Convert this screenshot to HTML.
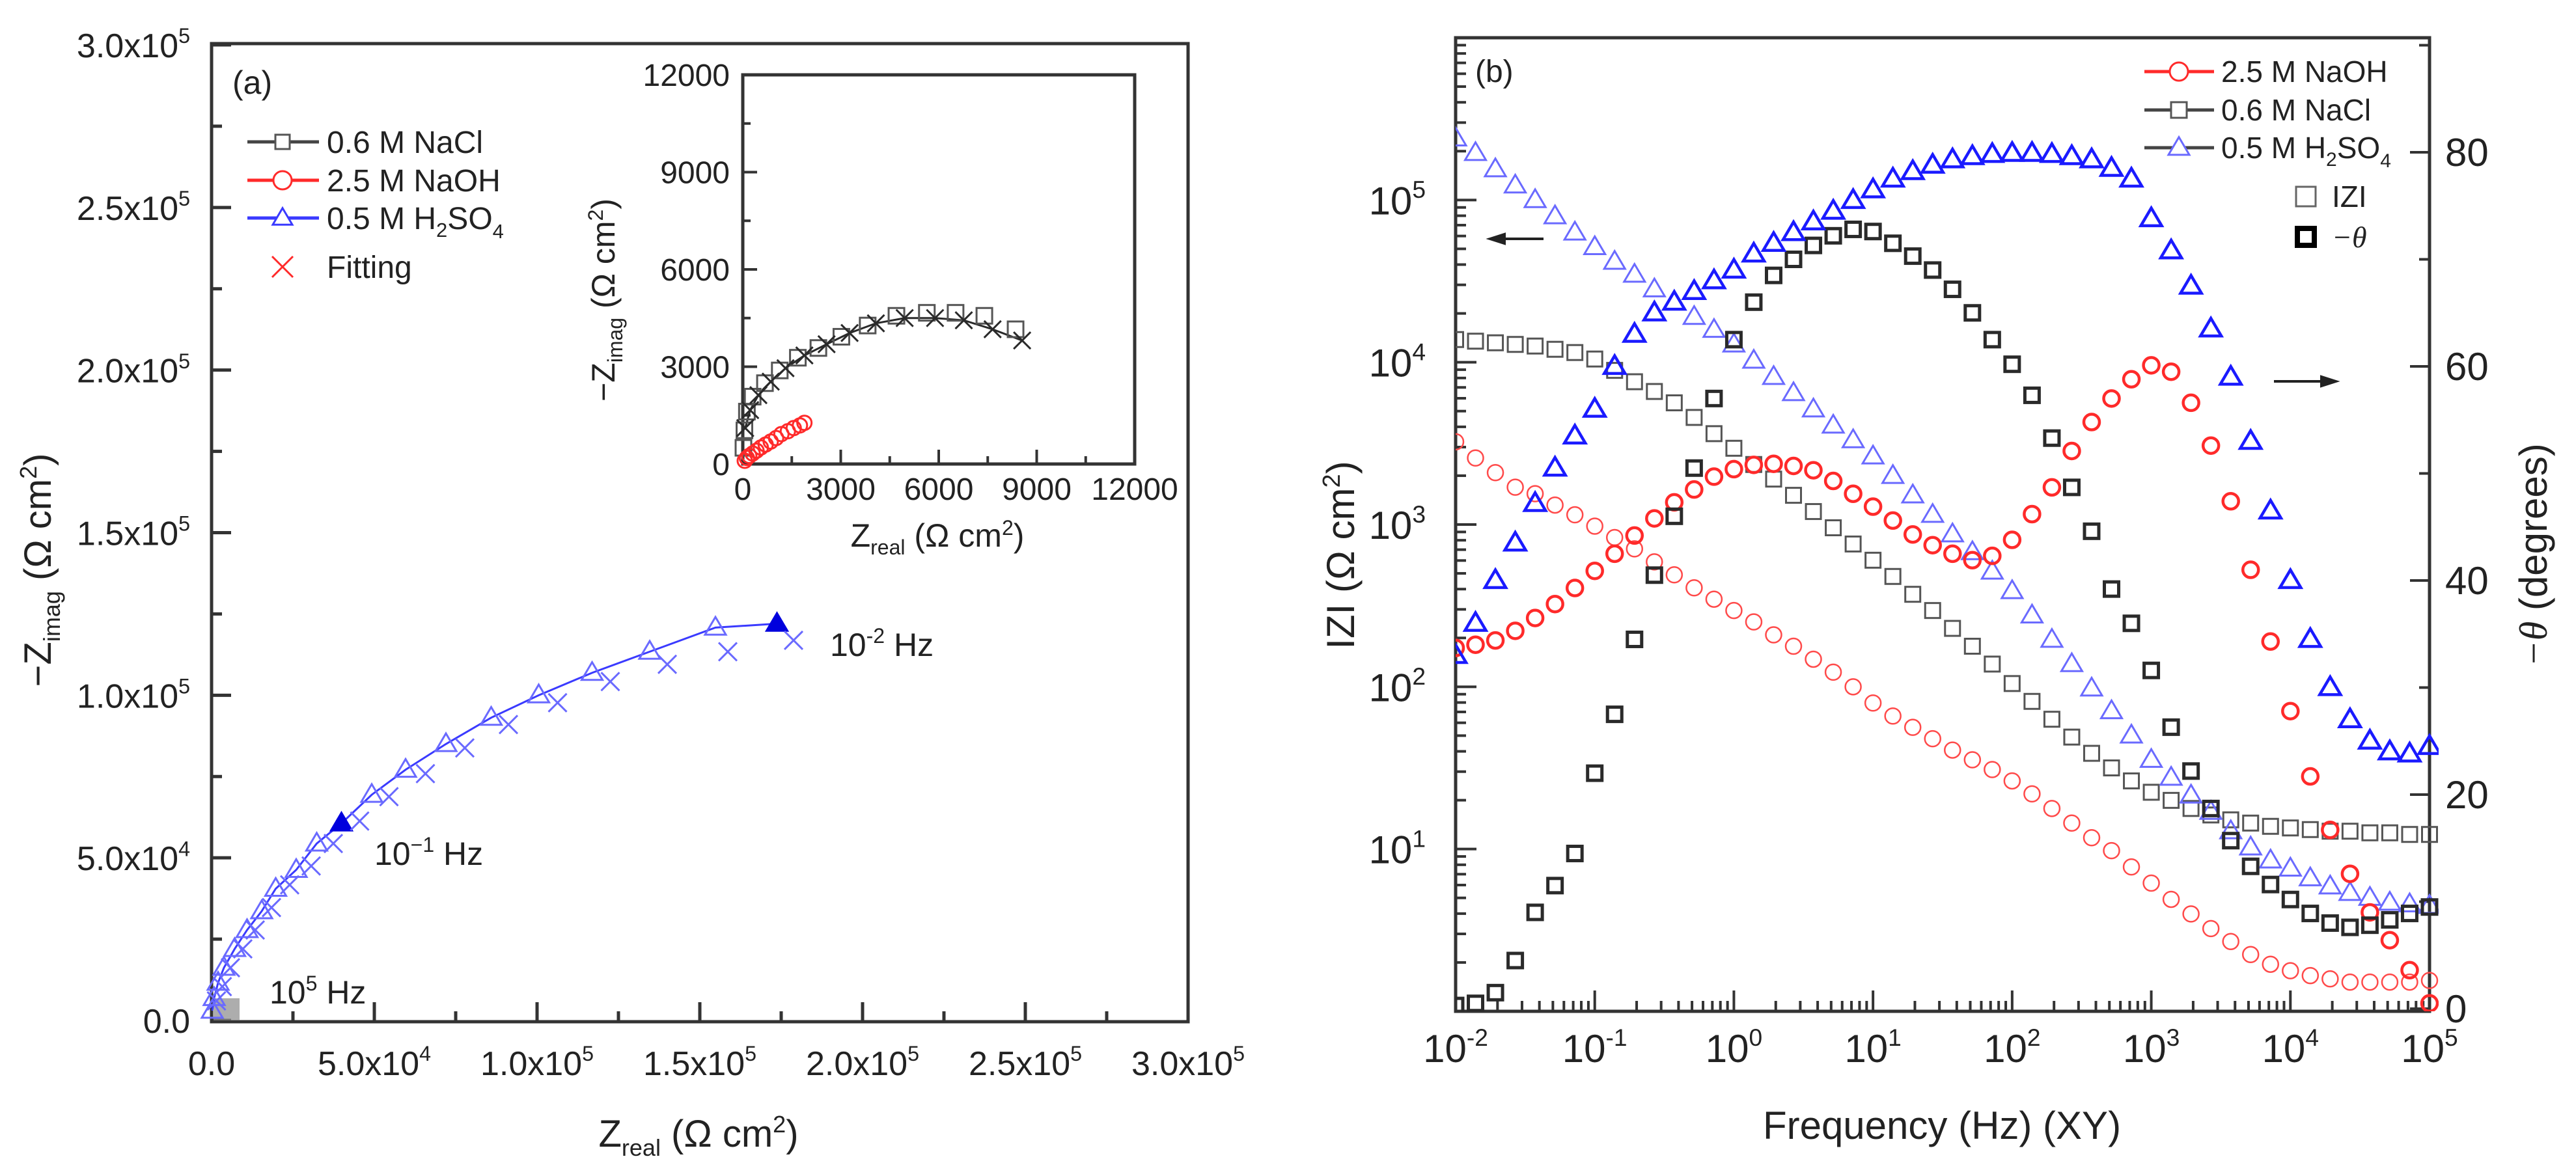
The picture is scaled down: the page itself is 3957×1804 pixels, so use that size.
<!DOCTYPE html>
<html><head><meta charset="utf-8"><style>
html,body{margin:0;padding:0;background:#fff;}
svg{display:block;font-family:"Liberation Sans",Arial,sans-serif;}
</style></head><body>
<svg id="fig" xmlns="http://www.w3.org/2000/svg" width="3957" height="1804" viewBox="0 0 3957 1804">
<rect x="0" y="0" width="3957" height="1804" fill="#fff"/>
<g id="gA"></g>
<g id="gB"></g>

<!-- Panel A static text -->
<text x="357" y="144" font-size="50" fill="#222">(a)</text>
<g font-size="48" fill="#222">
  <text x="502" y="235">0.6 M NaCl</text>
  <text x="502" y="294">2.5 M NaOH</text>
  <text x="502" y="352">0.5 M H<tspan font-size="31" dy="12">2</tspan><tspan dy="-12">SO</tspan><tspan font-size="31" dy="14">4</tspan></text>
  <text x="502" y="427">Fitting</text>
</g>
<text x="1275" y="1008" font-size="50" fill="#222">10<tspan font-size="32" dy="-20">-2</tspan><tspan dy="20"> Hz</tspan></text>
<text x="575" y="1329" font-size="50" fill="#222">10<tspan font-size="32" dy="-20">−1</tspan><tspan dy="20"> Hz</tspan></text>
<text x="414" y="1542" font-size="50" fill="#222">10<tspan font-size="32" dy="-20">5</tspan><tspan dy="20"> Hz</tspan></text>
<text x="1073" y="1762" font-size="58" fill="#222" text-anchor="middle">Z<tspan font-size="36" dy="14">real</tspan><tspan dy="-14"> (Ω cm</tspan><tspan font-size="36" dy="-22">2</tspan><tspan dy="22">)</tspan></text>
<text transform="translate(78,876) rotate(-90)" font-size="58" fill="#222" text-anchor="middle">−Z<tspan font-size="36" dy="14">imag</tspan><tspan dy="-14"> (Ω cm</tspan><tspan font-size="36" dy="-22">2</tspan><tspan dy="22">)</tspan></text>
<text x="1440" y="840" font-size="50" fill="#222" text-anchor="middle">Z<tspan font-size="32" dy="12">real</tspan><tspan dy="-12"> (Ω cm</tspan><tspan font-size="32" dy="-18">2</tspan><tspan dy="18">)</tspan></text>
<text transform="translate(944,461) rotate(-90)" font-size="50" fill="#222" text-anchor="middle">−Z<tspan font-size="32" dy="12">imag</tspan><tspan dy="-12"> (Ω cm</tspan><tspan font-size="32" dy="-18">2</tspan><tspan dy="18">)</tspan></text>

<!-- Panel B static text -->
<text x="2266" y="126" font-size="48" fill="#222">(b)</text>
<g font-size="46" fill="#222">
  <text x="3412" y="126">2.5 M NaOH</text>
  <text x="3412" y="185">0.6 M NaCl</text>
  <text x="3412" y="243">0.5 M H<tspan font-size="30" dy="12">2</tspan><tspan dy="-12">SO</tspan><tspan font-size="30" dy="14">4</tspan></text>
  <text x="3582" y="318">IZI</text>
  <text x="3582" y="380" font-style="italic" font-family="Liberation Serif, serif">−θ</text>
</g>
<text x="2983" y="1750" font-size="60" fill="#222" text-anchor="middle">Frequency (Hz) (XY)</text>
<text transform="translate(2080,853) rotate(-90)" font-size="60" fill="#222" text-anchor="middle">IZI (Ω cm<tspan font-size="38" dy="-22">2</tspan><tspan dy="22">)</tspan></text>
<text transform="translate(3912,853) rotate(-90)" font-size="60" fill="#222" text-anchor="middle"><tspan font-style="italic" font-family="Liberation Serif, serif">−θ</tspan> (degrees)</text>
</svg>
<script>
// ---------- Panel A data (Nyquist) ----------
const h2so4Real = [1.737,1.548,1.346,1.169,1.005,0.859,0.72,0.596,0.492,0.399,0.323,0.26,0.197,0.154,0.109,0.071,0.038,0.02,0.008,0.002];
const h2so4Imag = [1.22,1.208,1.134,1.069,1.0,0.931,0.85,0.771,0.694,0.606,0.544,0.463,0.405,0.336,0.278,0.22,0.162,0.116,0.069,0.03];
const h2so4FitReal = [1.788,1.586,1.40,1.225,1.063,0.912,0.778,0.657,0.545,0.455,0.374,0.306,0.24,0.184,0.134,0.096,0.058,0.033,0.015];
const h2so4FitImag = [1.169,1.134,1.095,1.042,0.977,0.91,0.838,0.759,0.688,0.613,0.544,0.475,0.417,0.347,0.278,0.22,0.162,0.104,0.06];
const naclReal = [8353,7397,6516,5636,4705,3824,3019,2315,1686,1132,679,302,126,50,20];
const naclImag = [4154,4570,4662,4662,4570,4270,3924,3577,3277,2885,2493,2077,1616,1039,500];
const naclFitReal = [8554,7649,6768,5887,4957,4076,3271,2566,1887,1308,855,478,226,75];
const naclFitImag = [3808,4154,4431,4500,4500,4339,4039,3693,3347,2954,2539,2123,1662,1108];
const naohReal = [1887,1750,1560,1380,1182,1020,855,700,553,420,302,200,126,60];
const naohImag = [1269,1190,1108,1010,923,800,692,600,508,410,323,250,185,100];
const mainXTicks = [0,0.5,1.0,1.5,2.0,2.5,3.0];
const mainXTickLabels = ["0.0","5.0x10|4","1.0x10|5","1.5x10|5","2.0x10|5","2.5x10|5","3.0x10|5"];
const mainYTicks = [0,0.5,1.0,1.5,2.0,2.5,3.0];
const mainYTickLabels = ["0.0","5.0x10|4","1.0x10|5","1.5x10|5","2.0x10|5","2.5x10|5","3.0x10|5"];
const insetTicks = [0,3000,6000,9000,12000];
const insetTickLabels = ["0","3000","6000","9000","12000"];

// ---------- Panel B data (Bode), 7 points per decade from 1e-2 to 1e5 ----------
const logFreqStart = -2, pointsPerDecade = 7;
const naohLogZ = [3.51,3.41,3.32,3.23,3.19,3.12,3.06,2.99,2.92,2.85,2.77,2.69,2.61,2.54,2.47,2.40,2.32,2.25,2.17,2.09,2.00,1.90,1.82,1.75,1.68,1.61,1.55,1.49,1.42,1.34,1.25,1.16,1.07,0.99,0.89,0.79,0.69,0.60,0.51,0.43,0.35,0.29,0.25,0.22,0.20,0.18,0.18,0.18,0.18,0.19];
const naclLogZ = [4.14,4.13,4.12,4.11,4.10,4.08,4.06,4.02,3.95,3.88,3.82,3.75,3.66,3.56,3.47,3.37,3.28,3.18,3.08,2.98,2.88,2.78,2.68,2.57,2.47,2.36,2.25,2.14,2.02,1.91,1.80,1.69,1.59,1.50,1.42,1.35,1.30,1.25,1.21,1.18,1.16,1.14,1.13,1.12,1.11,1.11,1.10,1.10,1.09,1.09];
const h2so4LogZ = [5.38,5.29,5.19,5.09,5.00,4.90,4.80,4.71,4.62,4.54,4.45,4.37,4.28,4.20,4.11,4.01,3.91,3.81,3.71,3.61,3.52,3.42,3.30,3.18,3.06,2.94,2.83,2.71,2.59,2.44,2.29,2.14,1.99,1.85,1.70,1.55,1.44,1.33,1.23,1.11,1.01,0.93,0.88,0.82,0.77,0.73,0.70,0.67,0.66,0.65];
const naohTheta = [33.7,34,34.4,35.3,36.5,37.8,39.3,40.9,42.5,44.2,45.8,47.3,48.5,49.7,50.4,50.8,50.9,50.7,50.3,49.3,48.1,46.9,45.6,44.3,43.3,42.5,41.9,42.3,43.8,46.2,48.7,52.1,54.8,57.0,58.8,60.1,59.5,56.6,52.6,47.4,41,34.3,27.8,21.7,16.7,12.6,9,6.4,3.6,0.5];
const naclTheta = [0.3,0.5,1.5,4.5,9,11.5,14.5,22,27.5,34.5,40.5,46,50.5,57,62.5,66,68.5,70,71.3,72.2,72.8,72.6,71.5,70.3,69,67.2,65,62.5,60.2,57.3,53.3,48.7,44.6,39.2,36,31.6,26.3,22.2,18.7,15.7,13.3,11.6,10.2,8.9,8.0,7.6,7.8,8.3,8.9,9.5];
const h2so4Theta = [33,36,40,43.5,47.2,50.5,53.5,56,60,63,65,66,67,68,69,70.5,71.5,72.5,73.5,74.5,75.5,76.5,77.5,78.2,78.8,79.3,79.6,79.8,79.9,79.9,79.8,79.6,79.3,78.5,77.5,73.8,70.8,67.5,63.5,59,53,46.5,40,34.5,30,27,25,24,23.8,24.5];
const freqDecades = [-2,-1,0,1,2,3,4,5];
const logZTicks = [1,2,3,4,5];
const thetaTicks = [0,20,40,60,80];

// ---------- helpers ----------
const NS = "http://www.w3.org/2000/svg";
function mk(tag, parent){ const e=document.createElementNS(NS,tag); parent.appendChild(e); return e; }
const BLUE="#3a3aff", BLUE_L="#6a6aff", RED="#ff2a2a", BLACK="#2a2a2a";

const A = {x0:325,x1:1825,yTop:67,yBot:1570};
function lx(v){ return A.x0 + v/3.0*(A.x1-A.x0); }
function ly(v){ return 1568 - v/3.0*1499; }
const I = {x0:1141,x1:1743,yTop:115,yBot:713};
function ix(v){ return I.x0 + v/12000*(I.x1-I.x0); }
function iy(v){ return I.yBot - v/12000*(I.yBot-I.yTop); }
const B = {x0:2236,x1:3732,yTop:58,yBot:1554};
function fx(lf){ return B.x0 + (lf+2)/7*(B.x1-B.x0); }
function zy(lz){ return B.yBot - lz/6*(B.yBot-B.yTop); }
function ty(t){ return 1550 - t*16.45; }

function drawSquare(p,cx,cy,s,col,sw){ const r=mk("rect",p); r.setAttribute("x",cx-s/2); r.setAttribute("y",cy-s/2); r.setAttribute("width",s); r.setAttribute("height",s); r.setAttribute("fill","none"); r.setAttribute("stroke",col); r.setAttribute("stroke-width",sw); return r; }
function drawCircle(p,cx,cy,s,col,sw){ const c=mk("circle",p); c.setAttribute("cx",cx); c.setAttribute("cy",cy); c.setAttribute("r",s/2); c.setAttribute("fill","none"); c.setAttribute("stroke",col); c.setAttribute("stroke-width",sw); return c; }
function drawTri(p,cx,cy,s,col,sw,fill){ const t=mk("polygon",p); const h=s*0.85; t.setAttribute("points",`${cx},${cy-h*0.6} ${cx+s/2},${cy+h*0.4} ${cx-s/2},${cy+h*0.4}`); t.setAttribute("fill",fill||"none"); t.setAttribute("stroke",col); t.setAttribute("stroke-width",sw); return t; }
function drawCross(p,cx,cy,s,col,sw){ const g=mk("path",p); g.setAttribute("d",`M${cx-s/2},${cy-s/2}L${cx+s/2},${cy+s/2}M${cx+s/2},${cy-s/2}L${cx-s/2},${cy+s/2}`); g.setAttribute("stroke",col); g.setAttribute("stroke-width",sw); g.setAttribute("fill","none"); return g; }
function line(p,x1,y1,x2,y2,col,sw){ const l=mk("line",p); l.setAttribute("x1",x1); l.setAttribute("y1",y1); l.setAttribute("x2",x2); l.setAttribute("y2",y2); l.setAttribute("stroke",col); l.setAttribute("stroke-width",sw); return l; }
function supText(p,x,y,label,size,anchor){
  const t=mk("text",p); t.setAttribute("x",x); t.setAttribute("y",y); t.setAttribute("font-size",size); t.setAttribute("fill","#222"); t.setAttribute("text-anchor",anchor);
  const parts=label.split("|");
  const a=document.createElementNS(NS,"tspan"); a.textContent=parts[0]; t.appendChild(a);
  if(parts[1]){ const b=document.createElementNS(NS,"tspan"); b.setAttribute("font-size",size*0.62); b.setAttribute("dy",-size*0.42); b.textContent=parts[1]; t.appendChild(b); }
  return t;
}

// ================= Panel A =================
const gA=document.getElementById("gA");
const frameA=mk("rect",gA);
frameA.setAttribute("x",A.x0); frameA.setAttribute("y",A.yTop); frameA.setAttribute("width",A.x1-A.x0); frameA.setAttribute("height",A.yBot-A.yTop);
frameA.setAttribute("fill","none"); frameA.setAttribute("stroke","#333"); frameA.setAttribute("stroke-width",5);


mainXTicks.forEach((v,i)=>{
  const x=lx(v);
  const t=line(gA,x,A.yBot,x,A.yBot-30,"#333",5);
  
  
  if(i<mainXTicks.length-1){ const m=line(gA,lx(v+0.25),A.yBot,lx(v+0.25),A.yBot-16,"#333",5);
    
     }
  const lb=supText(gA,x,1652,mainXTickLabels[i],52,"middle");
  
  
});
mainYTicks.forEach((v,i)=>{
  const y=ly(v);
  const t=line(gA,A.x0,y,A.x0+30,y,"#333",5);
  
  
  if(i<mainYTicks.length-1){ const m=line(gA,A.x0,ly(v+0.25),A.x0+16,ly(v+0.25),"#333",5);
    
     }
  const lb=supText(gA,292,y+19,mainYTickLabels[i],52,"end");
  
  
});
const clu=mk("rect",gA); clu.setAttribute("x",A.x0+3); clu.setAttribute("y",1534); clu.setAttribute("width",40); clu.setAttribute("height",34); clu.setAttribute("fill","#8a8a8a"); clu.setAttribute("opacity","0.7");


const pl=mk("polyline",gA);
pl.setAttribute("points",h2so4Real.map((v,i)=>lx(v)+","+ly(h2so4Imag[i])).join(" "));
pl.setAttribute("fill","none"); pl.setAttribute("stroke",BLUE); pl.setAttribute("stroke-width",3);


h2so4Real.forEach((v,i)=>{
  const filled=(i===0||i===9);
  const m=drawTri(gA,lx(v),ly(h2so4Imag[i]),32,filled?"#0000dd":BLUE_L,3,filled?"#0000dd":null);
  
  
});
h2so4FitReal.forEach((v,i)=>{
  const m=drawCross(gA,lx(v),ly(h2so4FitImag[i]),28,BLUE_L,3);
  
  
});
[[218,BLACK,"sq"],[277,RED,"ci"],[335,BLUE,"tr"]].forEach(r=>{
  const l=line(gA,380,r[0],490,r[0],r[1]==BLACK?"#444":r[1],5);
  
  
  let m;
  if(r[2]=="sq") m=drawSquare(gA,434,r[0],22,"#555",3);
  else if(r[2]=="ci"){ m=drawCircle(gA,434,r[0],28,RED,3); }
  else m=drawTri(gA,434,r[0],30,BLUE,3);
  m.setAttribute("fill","#fff");
  
  
});
const lc=drawCross(gA,434,410,32,RED,3);



const fi=mk("rect",gA);
fi.setAttribute("x",I.x0); fi.setAttribute("y",I.yTop); fi.setAttribute("width",I.x1-I.x0); fi.setAttribute("height",I.yBot-I.yTop);
fi.setAttribute("fill","#fff"); fi.setAttribute("stroke","#333"); fi.setAttribute("stroke-width",5);


insetTicks.forEach((v,i)=>{
  const tx=line(gA,ix(v),I.yBot,ix(v),I.yBot-22,"#333",4);
  
  
  const ty_=line(gA,I.x0,iy(v),I.x0+22,iy(v),"#333",4);
  
  
  if(i<insetTicks.length-1){
    const mx=line(gA,ix(v+1500),I.yBot,ix(v+1500),I.yBot-12,"#333",4);
    
    
    const my=line(gA,I.x0,iy(v+1500),I.x0+12,iy(v+1500),"#333",4);
    
    
  }
  const lxl=supText(gA,ix(v),768,insetTickLabels[i],48,"middle");
  
  
  const lyl=supText(gA,1121,iy(v)+17,insetTickLabels[i],48,"end");
  
  
});
const nl=mk("polyline",gA);
nl.setAttribute("points",naclFitReal.map((v,i)=>ix(v)+","+iy(naclFitImag[i])).join(" "));
nl.setAttribute("fill","none"); nl.setAttribute("stroke",BLACK); nl.setAttribute("stroke-width",3);


naclReal.forEach((v,i)=>{
  const m=drawSquare(gA,ix(v),iy(naclImag[i]),24,"#555",3);
  
  
});
naclFitReal.forEach((v,i)=>{
  const m=drawCross(gA,ix(v),iy(naclFitImag[i]),26,BLACK,3);
  
  
});
naohReal.forEach((v,i)=>{
  const m=drawCircle(gA,ix(v),iy(naohImag[i]),22,RED,3);
  
  
});

// ================= Panel B =================
const gB=document.getElementById("gB");
const frameB=mk("rect",gB);
frameB.setAttribute("x",B.x0); frameB.setAttribute("y",B.yTop); frameB.setAttribute("width",B.x1-B.x0); frameB.setAttribute("height",B.yBot-B.yTop);
frameB.setAttribute("fill","none"); frameB.setAttribute("stroke","#333"); frameB.setAttribute("stroke-width",5);


freqDecades.forEach((d,i)=>{
  const x=fx(d);
  const t=line(gB,x,B.yBot,x,B.yBot-32,"#333",4);
  
  
  if(i<freqDecades.length-1){ for(let k=2;k<10;k++){ const xx=fx(d+Math.log10(k)); const m=line(gB,xx,B.yBot,xx,B.yBot-16,"#333",4);
    
     } }
  const lb=supText(gB,x,1632,"10|"+d,60,"middle");
  
  
});
for(let d=0; d<6; d++){
  for(let k=1;k<10;k++){
    const y=zy(d+Math.log10(k));
    const t=line(gB,B.x0,y,B.x0+(k==1?32:16),y,"#333",4);
    
    
  }
}
logZTicks.forEach(v=>{
  const lb=supText(gB,2190,zy(v)+22,"10|"+v,60,"end");
  
  
});
thetaTicks.forEach(v=>{
  const t=line(gB,B.x1,ty(v),B.x1-30,ty(v),"#333",4);
  
  
  const m=line(gB,B.x1,ty(v+10),B.x1-16,ty(v+10),"#333",4);
  
  
  const lb=supText(gB,3756,ty(v)+21,String(v),60,"start");
  
  
});
function lf(i){ return logFreqStart + i/pointsPerDecade; }
const cp=mk("clipPath",gB); cp.setAttribute("id","clipB");
const cr=mk("rect",cp); cr.setAttribute("x",B.x0); cr.setAttribute("y",B.yTop); cr.setAttribute("width",B.x1-B.x0+14); cr.setAttribute("height",B.yBot-B.yTop);
const gM=mk("g",gB); gM.setAttribute("clip-path","url(#clipB)");


naohLogZ.forEach((v,i)=>{ const m=drawCircle(gM,fx(lf(i)),zy(v),24,"#ff4a4a",2.5);
  
   });
naclLogZ.forEach((v,i)=>{ const m=drawSquare(gM,fx(lf(i)),zy(v),23,"#555",3);
  
   });
h2so4LogZ.forEach((v,i)=>{ const m=drawTri(gM,fx(lf(i)),zy(v),32,BLUE_L,3);
  
   });
naohTheta.forEach((v,i)=>{ const m=drawCircle(gM,fx(lf(i)),ty(v),24,RED,4.5);
  
   });
naclTheta.forEach((v,i)=>{ const m=drawSquare(gM,fx(lf(i)),ty(v),22,BLACK,5);
  
   });
h2so4Theta.forEach((v,i)=>{ const m=drawTri(gM,fx(lf(i)),ty(v),32,"#1a1aff",4.5);
  
   });
[[110,RED,"ci"],[169,BLACK,"sq"],[227,BLACK,"tr"]].forEach(r=>{
  const l=line(gB,3294,r[0],3401,r[0],r[1]==RED?RED:"#444",5);
  
  
  let m;
  if(r[2]=="ci") m=drawCircle(gB,3347,r[0],28,RED,3);
  else if(r[2]=="sq") m=drawSquare(gB,3347,r[0],24,"#555",3);
  else m=drawTri(gB,3347,r[0],32,BLUE_L,3);
  m.setAttribute("fill","#fff");
  
  
});
const lzq=drawSquare(gB,3542,302,30,"#666",3);


const ltq=drawSquare(gB,3542,364,26,"#000",8);


function arrow(x1,x2,y,name){
  const p=mk("path",gB);
  const dir=x2>x1?1:-1;
  p.setAttribute("d",`M${x1},${y}L${x2},${y}M${x2},${y}L${x2-dir*22},${y-7}L${x2-dir*22},${y+7}Z`);
  p.setAttribute("stroke","#222"); p.setAttribute("stroke-width",4); p.setAttribute("fill","#222");
  
  
}
arrow(2371,2289,367,'left-axis-arrow');
arrow(3493,3588,586,'right-axis-arrow');
</script>
</body></html>
